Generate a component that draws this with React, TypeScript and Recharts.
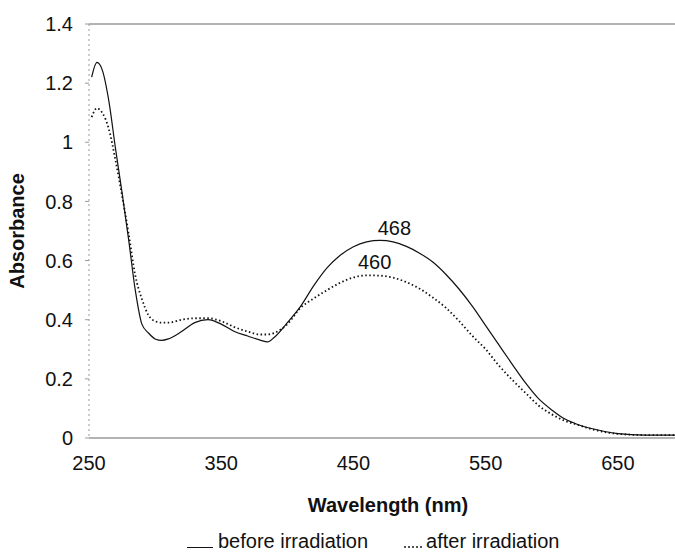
import { LineChart, Line, XAxis, YAxis, ReferenceLine, ReferenceDot, Label } from 'recharts'

const wavelengths = [252, 256, 260, 265, 270, 275, 280, 285, 290, 295, 300, 305, 310, 320, 330, 340, 350, 360, 370, 380, 385, 390, 400, 410, 420, 430, 440, 450, 460, 470, 480, 490, 500, 510, 520, 530, 540, 550, 560, 570, 580, 590, 600, 610, 620, 630, 640, 650, 670, 690, 700]
const beforeIrradiation = [1.22, 1.27, 1.245, 1.14, 0.98, 0.83, 0.67, 0.5, 0.385, 0.355, 0.335, 0.33, 0.335, 0.36, 0.39, 0.4, 0.385, 0.36, 0.345, 0.33, 0.325, 0.34, 0.39, 0.445, 0.515, 0.575, 0.618, 0.647, 0.663, 0.668, 0.663, 0.648, 0.625, 0.595, 0.553, 0.503, 0.445, 0.38, 0.315, 0.25, 0.187, 0.133, 0.095, 0.064, 0.045, 0.032, 0.022, 0.015, 0.01, 0.01, 0.01]
const afterIrradiation = [1.085, 1.115, 1.1, 1.045, 0.94, 0.82, 0.69, 0.55, 0.47, 0.415, 0.395, 0.39, 0.39, 0.4, 0.405, 0.405, 0.395, 0.375, 0.36, 0.35, 0.35, 0.355, 0.385, 0.44, 0.472, 0.5, 0.525, 0.543, 0.55, 0.549, 0.542, 0.527, 0.505, 0.475, 0.44, 0.395, 0.345, 0.3, 0.245, 0.197, 0.153, 0.11, 0.08, 0.058, 0.044, 0.03, 0.02, 0.014, 0.01, 0.01, 0.01]

const xTicks = [250, 350, 450, 550, 650]
const yTicks = [0, 0.2, 0.4, 0.6, 0.8, 1, 1.2, 1.4]

// peak annotations, placed in data coordinates
const peakLabels = [
  { text: '468', x: 481, y: 0.71 },
  { text: '460', x: 466, y: 0.595 },
]

const data = wavelengths.map((nm, i) => ({
  nm,
  before: beforeIrradiation[i],
  after: afterIrradiation[i],
}))

const font = '"Liberation Sans", Arial, sans-serif'
const axisGrey = '#9a9a9a'

export default function App() {
  return (
    <div style={{ position: 'fixed', left: 0, top: 0, width: 675, height: 553, overflow: 'hidden', background: '#fff', fontFamily: font }}>
      <LineChart width={700} height={553} data={data} margin={{ top: 24, right: 16, left: 29, bottom: 85 }}>
        <XAxis
          dataKey="nm" type="number" domain={[250, 700]} ticks={xTicks}
          allowDataOverflow tickLine={false} tickSize={6} tickMargin={12} height={30}
          axisLine={{ stroke: axisGrey, strokeWidth: 1.5 }}
          tick={{ fontSize: 20, fill: '#111', fontFamily: font }}
        >
          <Label content={() => (
            <text x={388} y={512} textAnchor="middle" fontSize={20} fontWeight="bold" fill="#111" fontFamily={font}>
              Wavelength (nm)
            </text>
          )} />
        </XAxis>
        <YAxis
          domain={[0, 1.4]} ticks={yTicks} width={60}
          tickSize={4} tickMargin={12} tickLine={{ stroke: axisGrey }}
          axisLine={{ stroke: axisGrey, strokeDasharray: '2 3' }}
          tick={{ fontSize: 20, fill: '#111', fontFamily: font }}
        >
          <Label content={() => (
            <text x={24} y={231} transform="rotate(-90 24 231)" textAnchor="middle" fontSize={20} fontWeight="bold" fill="#111" fontFamily={font}>
              Absorbance
            </text>
          )} />
        </YAxis>
        <ReferenceLine y={1.4} stroke={axisGrey} strokeWidth={1.5} />
        <Line type="monotone" dataKey="before" stroke="#111" strokeWidth={1.2} dot={false} isAnimationActive={false} />
        <Line type="monotone" dataKey="after" stroke="#111" strokeWidth={1.8} strokeDasharray="1.5 2.5" dot={false} isAnimationActive={false} />
        {peakLabels.map(p => (
          <ReferenceDot key={p.text} x={p.x} y={p.y} r={0} stroke="none"
            label={{ value: p.text, position: 'center', fontSize: 20, fill: '#111', fontFamily: font }} />
        ))}
      </LineChart>

      <div style={{ position: 'absolute', top: 529, left: 187, display: 'flex', alignItems: 'baseline', fontSize: 20, lineHeight: '24px', color: '#111', whiteSpace: 'nowrap' }}>
        <span style={{ display: 'inline-block', width: 26, borderBottom: '1.5px solid #111', marginRight: 5 }} />
        <span>before irradiation</span>
        <span style={{ display: 'inline-block', width: 18, borderBottom: '2px dotted #555', marginLeft: 36, marginRight: 4 }} />
        <span>after irradiation</span>
      </div>
    </div>
  )
}
